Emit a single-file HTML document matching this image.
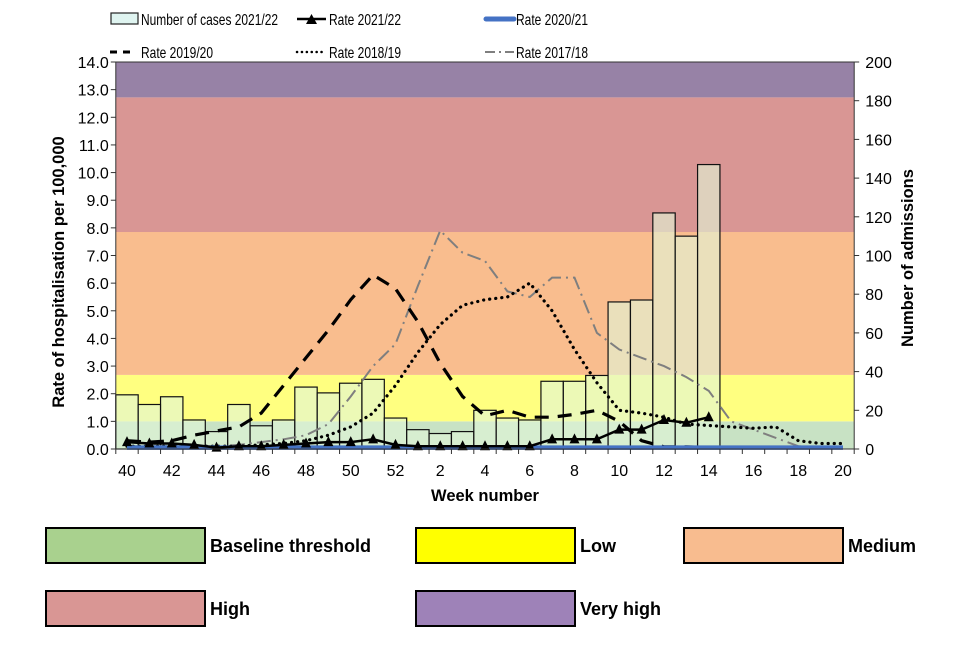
<!DOCTYPE html>
<html><head><meta charset="utf-8"><style>
body{margin:0;background:#fff;}
svg text{font-family:"Liberation Sans",Arial,sans-serif;}
</style></head><body>
<svg id="c" width="960" height="640" xmlns="http://www.w3.org/2000/svg">
<g id="bands"></g>
<g id="bars"></g>
<g id="lines"></g>
<g id="axes"></g>
<g id="legend"></g>
</svg>
<script>
const weeks=[40,41,42,43,44,45,46,47,48,49,50,51,52,1,2,3,4,5,6,7,8,9,10,11,12,13,14,15,16,17,18,19,20];
const cases2122=[28,23,27,15,9,23,12,15,32,29,34,36,16,10,8,9,20,16,15,35,35,38,76,77,122,110,147,null,null,null,null,null,null];
const rate2122=[0.25,0.2,0.2,0.15,0.05,0.1,0.1,0.15,0.2,0.25,0.25,0.35,0.15,0.1,0.1,0.1,0.1,0.1,0.1,0.35,0.35,0.35,0.7,0.7,1.05,0.95,1.15,null,null,null,null,null,null];
const rate2021=[0.05,0.05,0.05,0.05,0.05,0.05,0.05,0.05,0.05,0.05,0.05,0.05,0.05,0.05,0.05,0.05,0.05,0.05,0.05,0.05,0.05,0.05,0.05,0.05,0.05,0.05,0.05,0.05,0.05,0.05,0.05,0.05,0.05];
const rate1920=[0.3,0.25,0.3,0.5,0.65,0.8,1.3,2.3,3.3,4.3,5.4,6.3,5.8,4.6,3.1,1.9,1.2,1.4,1.15,1.15,1.25,1.4,1.0,0.3,0.08,0.08,0.05,0.05,0.05,0.05,0.05,0.05,0.05];
const rate1819=[0.1,0.1,0.1,0.1,0.1,0.1,0.15,0.2,0.3,0.5,0.8,1.3,2.3,3.5,4.5,5.2,5.4,5.5,6.0,5.0,3.6,2.4,1.4,1.3,1.15,0.9,0.85,0.8,0.75,0.8,0.3,0.2,0.2];
const rate1718=[0.1,0.1,0.1,0.1,0.1,0.15,0.25,0.35,0.5,0.9,1.9,3.0,3.8,5.9,7.9,7.1,6.8,5.7,5.5,6.2,6.2,4.2,3.6,3.3,3.0,2.6,2.1,1.0,0.7,0.4,0.1,0.05,0.05];
const bandLimits=[0,1.0,2.68,7.85,12.72,14];
const bandColors=["#c8e2c4","#ffff80","#f9bd8e","#d99694","#9782a6"];
const leftTicks=[0,1,2,3,4,5,6,7,8,9,10,11,12,13,14];
const rightTicks=[0,20,40,60,80,100,120,140,160,180,200];
const xLabels=[40,42,44,46,48,50,52,2,4,6,8,10,12,14,16,18,20];

const NS="http://www.w3.org/2000/svg";
const L=115.8,R=854.2,T=62,B=449;
const n=weeks.length,bw=(R-L)/n;
const xc=i=>L+bw*(i+0.5);
const yL=v=>B-(v/14)*(B-T);
const yR=v=>B-(v/200)*(B-T);
function mk(tag,attrs,parent){const e=document.createElementNS(NS,tag);for(const k in attrs)e.setAttribute(k,attrs[k]);parent.appendChild(e);return e;}
const G=id=>document.getElementById(id);

for(let i=0;i<bandColors.length;i++){
  const r=mk('rect',{x:L,y:yL(bandLimits[i+1]),width:R-L,height:yL(bandLimits[i])-yL(bandLimits[i+1]),fill:bandColors[i]},G('bands'));
  
  
}
cases2122.forEach((v,i)=>{
  if(v==null)return;
  const r=mk('rect',{x:L+bw*i,y:yR(v),width:bw,height:yR(0)-yR(v),fill:"rgba(225,245,215,0.62)",stroke:"#111","stroke-width":1.2},G('bars'));
  
  
});
function line(data,attrs,name){
  let d='',pen=false;
  data.forEach((v,i)=>{if(v==null){pen=false;return;}d+=(pen?'L':'M')+xc(i).toFixed(1)+','+yL(v).toFixed(1);pen=true;});
  const p=mk('path',Object.assign({d:d,fill:'none'},attrs),G('lines'));
  
  
}
line(rate1718,{stroke:'#7f7f7f','stroke-width':2,'stroke-dasharray':'14 5 2 5'},'line-rate-2017-18');
line(rate1819,{stroke:'#000','stroke-width':3.2,'stroke-dasharray':'0.1 6','stroke-linecap':'round'},'line-rate-2018-19');
line(rate1920,{stroke:'#000','stroke-width':3.2,'stroke-dasharray':'14 9'},'line-rate-2019-20');
line(rate2021,{stroke:'#4472c4','stroke-width':4.5},'line-rate-2020-21');
line(rate2122,{stroke:'#000','stroke-width':2.5},'line-rate-2021-22');
rate2122.forEach((v,i)=>{
  if(v==null)return;
  const x=xc(i),y=yL(v);
  const t=mk('path',{d:`M${x-5},${y+4}L${x},${y-6}L${x+5},${y+4}Z`,fill:'#000'},G('lines'));
  
  
});
const ax=G('axes');
mk('rect',{x:L,y:T,width:R-L,height:B-T,fill:'none',stroke:'#333','stroke-width':1},ax);
leftTicks.forEach(v=>{
  mk('line',{x1:L-5,x2:L,y1:yL(v),y2:yL(v),stroke:'#333'},ax);
  const t=mk('text',{x:L-7,y:yL(v)+6,'text-anchor':'end','font-size':16,fill:'#000'},ax);t.textContent=v.toFixed(1);
  
  
});
rightTicks.forEach(v=>{
  mk('line',{x1:R,x2:R+5,y1:yR(v),y2:yR(v),stroke:'#333'},ax);
  const t=mk('text',{x:R+11,y:yR(v)+6,'font-size':16,fill:'#000'},ax);t.textContent=v;
  
  
});
for(let i=0;i<=n;i++)mk('line',{x1:L+bw*i,x2:L+bw*i,y1:B,y2:B+5,stroke:'#333'},ax);
xLabels.forEach(w=>{
  const i=weeks.indexOf(w);
  const t=mk('text',{x:xc(i),y:476,'text-anchor':'middle','font-size':16,fill:'#000'},ax);t.textContent=w;
  
  
});
</script>
<svg style="position:absolute;left:0;top:0" width="960" height="640" xmlns="http://www.w3.org/2000/svg">
<g font-family="Liberation Sans, Arial, sans-serif">
<text x="0" y="0" transform="translate(64,272) rotate(-90)" text-anchor="middle" font-size="16.5" font-weight="bold">Rate of hospitalisation per 100,000</text>
<text x="0" y="0" transform="translate(913,258) rotate(-90)" text-anchor="middle" font-size="16.5" font-weight="bold">Number of admissions</text>
<text x="485" y="501" text-anchor="middle" font-size="16.5" font-weight="bold">Week number</text>
<g><rect x="111" y="13" width="27" height="11" fill="#dff4f0" stroke="#222" stroke-width="1.2"/><text x="141" y="25" font-size="16" textLength="137" lengthAdjust="spacingAndGlyphs">Number of cases 2021/22</text></g>
<g><line x1="297" y1="19" x2="326" y2="19" stroke="#000" stroke-width="2.5"/><path d="M306,24L311.5,14L317,24Z"/><text x="329" y="25" font-size="16" textLength="72" lengthAdjust="spacingAndGlyphs">Rate 2021/22</text></g>
<g><line x1="486" y1="19" x2="514" y2="19" stroke="#4472c4" stroke-width="5" stroke-linecap="round"/><text x="516" y="25" font-size="16" textLength="72" lengthAdjust="spacingAndGlyphs">Rate 2020/21</text></g>
<g><line x1="110" y1="52" x2="136" y2="52" stroke="#000" stroke-width="3" stroke-dasharray="7 6"/><text x="141" y="58" font-size="16" textLength="72" lengthAdjust="spacingAndGlyphs">Rate 2019/20</text></g>
<g><line x1="297" y1="52" x2="326" y2="52" stroke="#000" stroke-width="2.5" stroke-dasharray="0.1 4.8" stroke-linecap="round"/><text x="329" y="58" font-size="16" textLength="72" lengthAdjust="spacingAndGlyphs">Rate 2018/19</text></g>
<g><line x1="485" y1="52" x2="514" y2="52" stroke="#7f7f7f" stroke-width="2" stroke-dasharray="10 4 2 4"/><text x="516" y="58" font-size="16" textLength="72" lengthAdjust="spacingAndGlyphs">Rate 2017/18</text></g>
<g font-size="18" font-weight="bold">
<g><rect x="46" y="528" width="159" height="35" fill="#a9d18e" stroke="#000" stroke-width="2"/><text x="210" y="552">Baseline threshold</text></g>
<g><rect x="416" y="528" width="159" height="35" fill="#ffff00" stroke="#000" stroke-width="2"/><text x="580" y="552">Low</text></g>
<g><rect x="684" y="528" width="159" height="35" fill="#f8bc8f" stroke="#000" stroke-width="2"/><text x="848" y="552">Medium</text></g>
<g><rect x="46" y="591" width="159" height="35" fill="#d99694" stroke="#000" stroke-width="2"/><text x="210" y="615">High</text></g>
<g><rect x="416" y="591" width="159" height="35" fill="#9e82b8" stroke="#000" stroke-width="2"/><text x="580" y="615">Very high</text></g>
</g>
</g>
</svg>
</body></html>
